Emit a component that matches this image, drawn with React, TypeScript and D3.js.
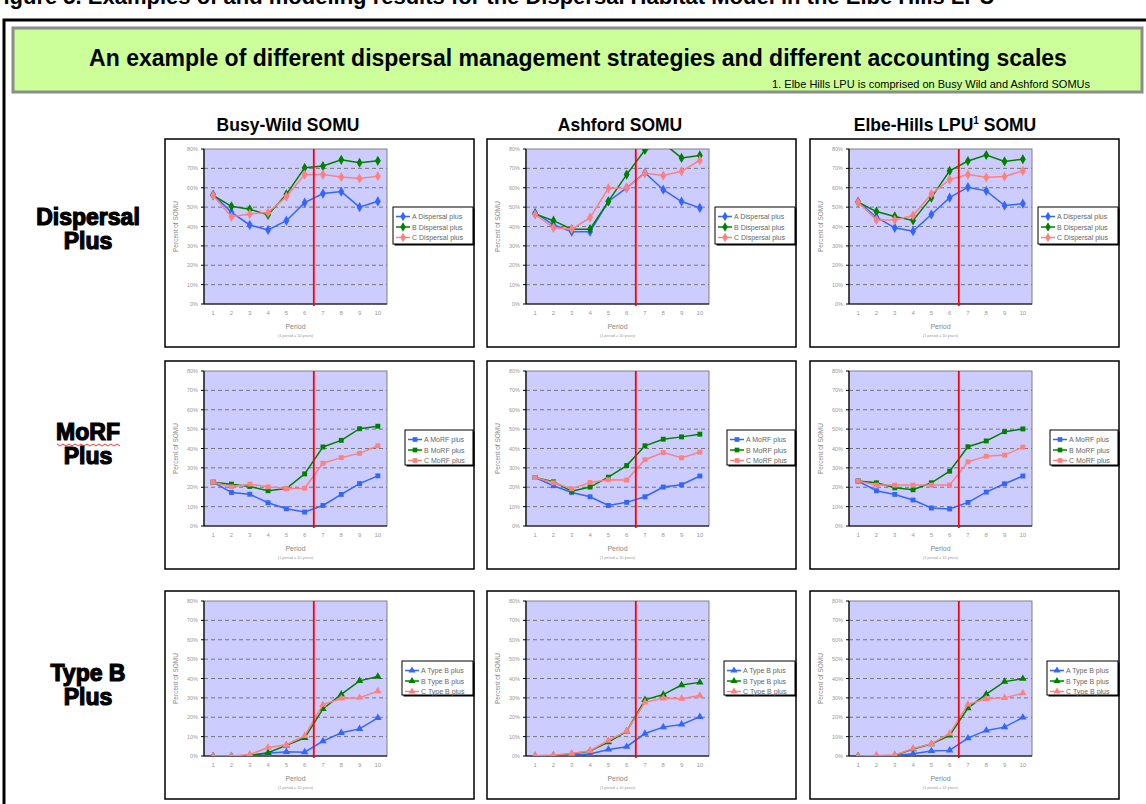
import React from "react";
import * as d3 from "d3";

// Periods (1 period = 10 years) and percent ticks
const periods = [1, 2, 3, 4, 5, 6, 7, 8, 9, 10];
const yTicks = [0, 10, 20, 30, 40, 50, 60, 70, 80];
const gridTicks = [10, 20, 30, 40, 50, 60, 70];

const somuNames = ["Busy-Wild SOMU", "Ashford SOMU", "Elbe-Hills LPU"];
const rowLabels = [["Dispersal", "Plus"], ["MoRF", "Plus"], ["Type B", "Plus"]];
const strategyNames = ["Dispersal plus", "MoRF plus", "Type B plus"];
const seriesLetters = ["A", "B", "C"];
const seriesColors = ["#3366ff", "#008000", "#ff8080"];

// Percent of SOMU, series A / B / C
const busyWildDispersal = [
  [56.5, 47.3, 40.8, 38.2, 43, 52.3, 57, 58, 50, 53],
  [56, 50.4, 48.9, 46, 56.6, 70.3, 71.2, 74.4, 72.9, 73.9],
  [56, 45, 46.5, 47.2, 55.4, 66.8, 66.8, 65.5, 64.8, 66],
];
const ashfordDispersal = [
  [47, 40.9, 37.3, 37.3, 52.9, 59.9, 67.8, 59, 52.9, 49.6],
  [46.5, 43, 38.6, 38.6, 53, 66.8, 79.5, 83, 75.4, 76.7],
  [46.2, 39.3, 38.6, 44.6, 59.7, 59.9, 67.5, 66.3, 68.5, 74.2],
];
const elbeDispersal = [
  [52.9, 44.8, 39.3, 37.6, 46.2, 54.9, 60.3, 58.4, 50.8, 51.8],
  [52.5, 47.7, 45.2, 43.1, 54.9, 68.7, 73.8, 76.9, 73.6, 74.7],
  [52.5, 43.4, 43.4, 45.7, 56.8, 64.2, 66.8, 65.4, 65.8, 68.7],
];
const busyWildMorf = [
  [22.6, 17.3, 16.4, 12, 8.9, 7.2, 10.6, 16.3, 21.9, 25.9],
  [22.6, 21.6, 20.4, 18.2, 19.3, 26.9, 40.8, 44.2, 50.2, 51.5],
  [22.6, 20.2, 21.6, 20.2, 19.3, 19.5, 32.4, 35.3, 37.5, 41.4],
];
const ashfordMorf = [
  [25, 20.8, 17.3, 15.1, 10.6, 12.2, 15.1, 20.1, 21.3, 25.8],
  [25, 22.8, 17.9, 20.1, 25.2, 31.2, 41.4, 44.8, 46, 47.4],
  [25, 22.3, 19.2, 22.5, 23.9, 23.7, 34.2, 37.9, 35.2, 38.1],
];
const elbeMorf = [
  [23.2, 18.2, 16.3, 13.4, 9.3, 8.8, 12.2, 17.5, 21.8, 25.8],
  [23.2, 22.3, 19.7, 18.7, 22.3, 28.3, 40.9, 43.9, 48.7, 50.1],
  [23.2, 21.1, 21.1, 21.1, 21.1, 21.1, 33.1, 36, 36.6, 40.7],
];
const busyWildTypeB = [
  [0, 0, 0.3, 1.4, 2.2, 2, 7.7, 12, 14, 19.7],
  [0, 0, 0.3, 1.7, 5.5, 9.4, 24.3, 31.8, 38.8, 41],
  [0, 0, 0.8, 4.4, 5.8, 10.4, 26.5, 29.7, 30.1, 33.5],
];
const ashfordTypeB = [
  [0, 0, 0.5, 1, 3.4, 4.8, 11.6, 14.9, 16.3, 20.2],
  [0, 0.3, 1, 2.6, 7.2, 12.7, 29, 31.7, 36.6, 38],
  [0.3, 0.5, 1.3, 2.7, 8, 12.8, 27.7, 29.8, 29.6, 31.2],
];
const elbeTypeB = [
  [0, 0, 0.3, 1.2, 2.6, 2.9, 9.2, 13.2, 14.9, 19.9],
  [0, 0, 0.3, 3.6, 6.2, 10.6, 24.7, 31.9, 38.4, 39.9],
  [0, 0.3, 0.5, 3.8, 6.3, 11.6, 26.7, 29.5, 30, 32.4],
];

const panelData = [
  [busyWildDispersal, ashfordDispersal, elbeDispersal],
  [busyWildMorf, ashfordMorf, elbeMorf],
  [busyWildTypeB, ashfordTypeB, elbeTypeB],
];

const FONT = "'Liberation Sans', Arial, sans-serif";
const panelX = [165, 487, 810];
const panelY = [139, 361, 591];
const legendBoxes = [
  { dx: 228, dy: 68, w: 80, h: 37 },
  { dx: 240, dy: 69, w: 68, h: 35 },
  { dx: 237, dy: 70, w: 71, h: 34 },
];
const symbolTypes = [d3.symbolDiamond, d3.symbolSquare, d3.symbolTriangle];

function Panel({ row, col }: { row: number; col: number }) {
  const x0 = panelX[col];
  const y0 = panelY[row];
  const px = x0 + 39;
  const py = y0 + 10;
  const pw = 183;
  const ph = 155;
  const data = panelData[row][col];

  const xs = d3.scaleBand<number>().domain(periods).range([px, px + pw]);
  const ys = d3.scaleLinear().domain([0, 80]).range([py + ph, py]);
  const cx = (p: number) => (xs(p) ?? 0) + xs.bandwidth() / 2;
  const line = d3
    .line<number>()
    .x((_, i) => cx(periods[i]))
    .y((d) => ys(d));
  const sym = d3.symbol().type(symbolTypes[row]).size(row === 0 ? 30 : 24)();
  const legendSym = d3.symbol().type(symbolTypes[row]).size(row === 0 ? 26 : 22)();
  const splitX = xs(7) ?? 0;
  const clipId = `clip-${row}-${col}`;
  const lg = legendBoxes[row];
  const lx = x0 + lg.dx;
  const ly = y0 + lg.dy;

  return (
    <g>
      <rect x={x0} y={y0} width={309} height={208} fill="#fff" stroke="#000" strokeWidth={1.5} />
      <clipPath id={clipId}>
        <rect x={px} y={py} width={pw} height={ph} />
      </clipPath>
      <rect x={px} y={py} width={pw} height={ph} fill="#ccccff" stroke="#808080" strokeWidth={1} />
      {gridTicks.map((t) => (
        <line
          key={t}
          x1={px}
          x2={px + pw}
          y1={ys(t)}
          y2={ys(t)}
          stroke="#777"
          strokeWidth={1}
          strokeDasharray="4,3"
        />
      ))}
      {/* axes */}
      <line x1={px} x2={px} y1={py} y2={py + ph} stroke="#000" strokeWidth={1.2} />
      <line x1={px} x2={px + pw} y1={py + ph} y2={py + ph} stroke="#000" strokeWidth={1.2} />
      {yTicks.map((t) => (
        <g key={t}>
          <line x1={px - 3} x2={px} y1={ys(t)} y2={ys(t)} stroke="#000" strokeWidth={1} />
          <text
            x={px - 6}
            y={ys(t) + 2}
            fontSize={5.5}
            fill="#999"
            textAnchor="end"
            fontFamily={FONT}
          >
            {t}%
          </text>
        </g>
      ))}
      {periods.map((p) => (
        <text key={p} x={cx(p)} y={py + ph + 11} fontSize={6} fill="#999" textAnchor="middle" fontFamily={FONT}>
          {p}
        </text>
      ))}
      <text x={px + pw / 2} y={py + ph + 25} fontSize={7} fill="#888" textAnchor="middle" fontFamily={FONT}>
        Period
      </text>
      <text x={px + pw / 2} y={py + ph + 33} fontSize={3.8} fill="#999" textAnchor="middle" fontFamily={FONT}>
        (1 period = 10 years)
      </text>
      <text
        transform={`translate(${px - 26},${py + ph / 2}) rotate(-90)`}
        fontSize={6.5}
        fill="#888"
        textAnchor="middle"
        fontFamily={FONT}
      >
        Percent of SOMU
      </text>
      {/* series */}
      <g clipPath={`url(#${clipId})`}>
        {data.map((s, si) => (
          <g key={si}>
            <path d={line(s) ?? ""} fill="none" stroke={seriesColors[si]} strokeWidth={1.5} />
            {s.map((v, i) => (
              <path
                key={i}
                d={sym ?? ""}
                transform={`translate(${cx(periods[i])},${ys(v)})`}
                fill={seriesColors[si]}
              />
            ))}
          </g>
        ))}
      </g>
      <line x1={splitX} x2={splitX} y1={py} y2={py + ph + 2} stroke="#ff0000" strokeWidth={1.8} />
      {/* legend */}
      <rect x={lx + 1.5} y={ly + 1.5} width={lg.w} height={lg.h} fill="#000" />
      <rect x={lx} y={ly} width={lg.w} height={lg.h} fill="#fff" stroke="#000" strokeWidth={1} />
      {seriesLetters.map((letter, si) => {
        const ey = ly + 9.5 + si * 10.5;
        return (
          <g key={letter}>
            <line x1={lx + 3} x2={lx + 17} y1={ey} y2={ey} stroke={seriesColors[si]} strokeWidth={1.5} />
            <path d={legendSym ?? ""} transform={`translate(${lx + 10},${ey})`} fill={seriesColors[si]} />
            <text x={lx + 19} y={ey + 2.5} fontSize={7} fill="#666" fontFamily={FONT}>
              {letter} {strategyNames[row]}
            </text>
          </g>
        );
      })}
    </g>
  );
}

export default function App() {
  const titleCenters = [288, 620, 945];
  const rowCenters = [217, 432, 673];
  return (
    <div style={{ position: "absolute", left: 0, top: 0 }}>
      <svg width={1146} height={804} style={{ display: "block", background: "#fff" }}>
        <text x={-10} y={4} fontSize={22} fontWeight="bold" fill="#000" fontFamily={FONT}>
          Figure 5. Examples of and modeling results for the Dispersal Habitat Model in the Elbe Hills LPU
        </text>
        <rect x={4} y={20} width={1160} height={800} fill="none" stroke="#000" strokeWidth={3} />
        {/* header box */}
        <rect x={13} y={28} width={1129} height={64} fill="#ccff99" stroke="#8c8c8c" strokeWidth={3} />
        <text x={578} y={66} fontSize={23} fontWeight="bold" textAnchor="middle" fill="#000" fontFamily={FONT}>
          An example of different dispersal management strategies and different accounting scales
        </text>
        <text x={1090} y={88} fontSize={11} textAnchor="end" fill="#000" fontFamily={FONT}>
          1. Elbe Hills LPU is comprised on Busy Wild and Ashford SOMUs
        </text>
        {somuNames.map((name, i) => (
          <text
            key={name}
            x={titleCenters[i]}
            y={131}
            fontSize={17.5}
            fontWeight="bold"
            textAnchor="middle"
            fill="#000"
            fontFamily={FONT}
          >
            {name}
            {i === 2 && (
              <tspan fontSize={10} dy={-7}>
                1
              </tspan>
            )}
            {i === 2 && <tspan dy={7}> SOMU</tspan>}
          </text>
        ))}
        {rowLabels.map((lines, r) => (
          <g key={r}>
            {lines.map((t, k) => (
              <text
                key={k}
                x={88}
                y={rowCenters[r] + 8 + k * 24}
                fontSize={23}
                fontWeight="bold"
                textAnchor="middle"
                fill="#000"
                fontFamily={FONT}
                stroke="#000"
                strokeWidth={1.2}
              >
                {t}
              </text>
            ))}
          </g>
        ))}
        {/* spell-check squiggle under MoRF */}
        <path
          d={d3.range(0, 22).map((i) => `${i === 0 ? "M" : "L"}${57 + i * 3},${i % 2 === 0 ? 444 : 446}`).join("")}
          fill="none"
          stroke="#ff0000"
          strokeWidth={0.8}
        />
        {[0, 1, 2].map((r) =>
          [0, 1, 2].map((c) => <Panel key={`${r}-${c}`} row={r} col={c} />)
        )}
      </svg>
    </div>
  );
}
